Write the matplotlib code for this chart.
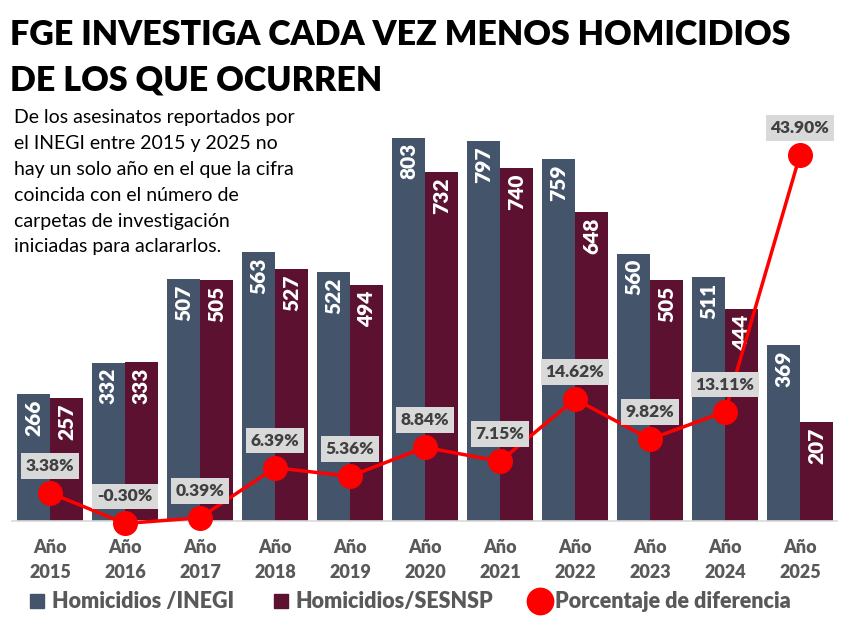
import matplotlib.pyplot as plt
import numpy as np
from matplotlib.lines import Line2D

# Homicidios reportados por INEGI vs carpetas SESNSP, 2015-2025
years = ['2015', '2016', '2017', '2018', '2019', '2020',
         '2021', '2022', '2023', '2024', '2025']
inegi = [266, 332, 507, 563, 522, 803, 797, 759, 560, 511, 369]
sesnsp = [257, 333, 505, 527, 494, 732, 740, 648, 505, 444, 207]
pct_diff = [3.38, -0.30, 0.39, 6.39, 5.36, 8.84, 7.15, 14.62, 9.82, 13.11, 43.90]

C_INEGI = '#44546A'
C_SESNSP = '#5C1130'
C_RED = '#FF0000'
C_GRAY = '#595959'
HEAVY = 'heavy'

plt.rcParams['font.family'] = ['Lato', 'DejaVu Sans']


def main() -> None:
    fig = plt.figure(figsize=(8.48, 6.28), dpi=100)
    ax = fig.add_axes([0.0147, 0.1704, 0.9729, 0.6704])
    x = np.arange(len(years))
    w = 0.44

    b1 = ax.bar(x - w / 2, inegi, w, color=C_INEGI)
    b2 = ax.bar(x + w / 2, sesnsp, w, color=C_SESNSP)
    for bars in (b1, b2):
        for r in bars:
            ax.annotate(f'{int(r.get_height())}',
                        (r.get_x() + r.get_width() / 2, r.get_height()),
                        xytext=(0, -4), textcoords='offset points',
                        rotation=90, ha='center', va='top',
                        color='white', fontsize=15, fontweight=HEAVY)

    ax.set_xlim(-0.5, len(years) - 0.5)
    ax.set_ylim(0, 882)
    ax.set_yticks([])
    for s in ('top', 'right', 'left'):
        ax.spines[s].set_visible(False)
    ax.spines['bottom'].set_color('#D9D9D9')
    ax.spines['bottom'].set_linewidth(1.2)
    ax.set_xticks(x)
    ax.set_xticklabels([f'Año\n{y}' for y in years], color=C_GRAY,
                       fontsize=13, fontweight=HEAVY, linespacing=1.55)
    ax.tick_params(axis='x', length=0, pad=13)

    ax2 = ax.twinx()
    ax2.set_ylim(0, 50.5)
    ax2.axis('off')
    ax2.plot(x, pct_diff, color=C_RED, lw=2.5, marker='o', ms=17,
             clip_on=False, zorder=3)
    for xi, p in zip(x, pct_diff):
        ax2.annotate(f'{p:.2f}%', (xi, p), xytext=(0, 19.5),
                     textcoords='offset points', ha='center', va='center',
                     fontsize=12.5, fontweight=HEAVY, color='#404040',
                     bbox=dict(boxstyle='square,pad=0.28', fc='#D9D9D9', ec='none'),
                     annotation_clip=False, zorder=4)

    fig.text(0.012, 0.908, 'FGE INVESTIGA CADA VEZ MENOS HOMICIDIOS\nDE LOS QUE OCURREN',
             fontsize=24.5, fontweight=HEAVY, color='black', va='center',
             linespacing=1.5)
    fig.text(0.016, 0.826,
             'De los asesinatos reportados por\nel INEGI entre 2015 y 2025 no\n'
             'hay un solo año en el que la cifra\ncoincida con el número de\n'
             'carpetas de investigación\niniciadas para aclararlos.',
             fontsize=14, color='black', va='top', linespacing=1.63)

    handles = [
        Line2D([], [], ls='none', marker='s', ms=10, color=C_INEGI),
        Line2D([], [], ls='none', marker='s', ms=10, color=C_SESNSP),
        Line2D([], [], ls='none', marker='o', ms=19, color=C_RED),
    ]
    labels = ['Homicidios /INEGI', 'Homicidios/SESNSP', 'Porcentaje de diferencia']
    leg = fig.legend(handles, labels, loc='center', bbox_to_anchor=(0.482, 0.042),
                     ncol=3, frameon=False, handletextpad=0.2, columnspacing=1.65,
                     prop={'size': 15.5, 'weight': HEAVY}, handlelength=1.0)
    for t in leg.get_texts():
        t.set_color(C_GRAY)

    fig.savefig('out.png', dpi=100)


if __name__ == '__main__':
    main()
